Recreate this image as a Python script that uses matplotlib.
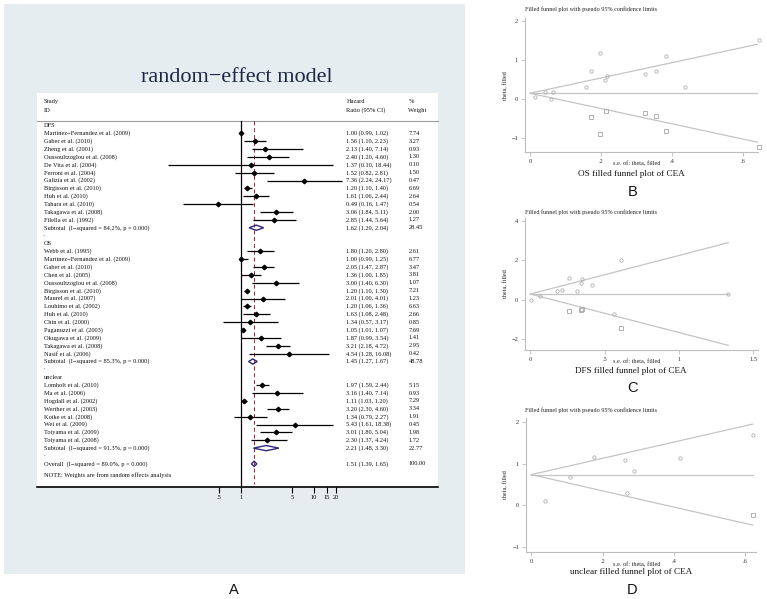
import matplotlib
matplotlib.use('Agg')
import matplotlib.pyplot as plt
from matplotlib.patches import Rectangle, Polygon

# ---------------- data ----------------
dfs_study = ['Martinez−Fernandez et al. (2009)', 'Gaber et al. (2010)', 'Zheng et al. (2001)',
             'Oussoultzoglou et al. (2008)', 'De Vita et al. (2004)', 'Ferroni et al. (2004)',
             'Galizia et al. (2002)', 'Birgisson et al. (2010)', 'Huh et al. (2010)',
             'Tahara et al. (2010)', 'Takagawa et al. (2008)', 'Filella et al. (1992)']
dfs_hr = [1.00, 1.56, 2.13, 2.40, 1.37, 1.52, 7.36, 1.20, 1.61, 0.49, 3.06, 2.85]
dfs_lo = [0.99, 1.10, 1.40, 1.20, 0.10, 0.82, 2.24, 1.10, 1.06, 0.16, 1.84, 1.44]
dfs_hi = [1.02, 2.23, 7.14, 4.60, 18.44, 2.81, 24.17, 1.40, 2.44, 1.47, 5.11, 5.64]
dfs_w = ['7.74', '3.27', '0.93', '1.30', '0.10', '1.50', '0.47', '6.69', '2.64', '0.54', '2.00', '1.27']

os_study = ['Webb et al. (1995)', 'Martinez−Fernandez et al. (2009)', 'Gaber et al. (2010)',
            'Chen et al. (2005)', 'Oussoultzoglou et al. (2008)', 'Birgisson et al. (2010)',
            'Maurel et al. (2007)', 'Louhimo et al. (2002)', 'Huh et al. (2010)', 'Chin et al. (2000)',
            'Paganuzzi et al. (2003)', 'Okugawa et al. (2009)', 'Takagawa et al. (2008)', 'Nasif et al. (2006)']
os_hr = [1.80, 1.00, 2.05, 1.36, 3.00, 1.20, 2.01, 1.20, 1.63, 1.34, 1.05, 1.87, 3.21, 4.54]
os_lo = [1.20, 0.99, 1.47, 1.00, 1.40, 1.10, 1.00, 1.06, 1.08, 0.57, 1.01, 0.99, 2.18, 1.28]
os_hi = [2.80, 1.25, 2.87, 1.85, 6.30, 1.30, 4.01, 1.36, 2.48, 3.17, 1.07, 3.54, 4.72, 16.08]
os_w = ['2.61', '6.77', '3.47', '3.81', '1.07', '7.21', '1.23', '6.63', '2.66', '0.85', '7.69', '1.41', '2.95', '0.42']

unc_study = ['Lomholt et al. (2010)', 'Ma et al. (2006)', 'Hogdall et al. (2002)', 'Werther et al. (2003)',
             'Koike et al. (2008)', 'Wei et al. (2009)', 'Toiyama et al. (2009)', 'Toiyama et al. (2008)']
unc_hr = [1.97, 3.16, 1.11, 3.20, 1.34, 5.43, 3.01, 2.30]
unc_lo = [1.59, 1.40, 1.03, 2.30, 0.79, 1.61, 1.80, 1.37]
unc_hi = [2.44, 7.14, 1.20, 4.60, 2.27, 18.38, 5.04, 4.24]
unc_w = ['5.15', '0.93', '7.29', '3.34', '1.91', '0.45', '1.98', '1.72']

group_names = ['DFS', 'OS', 'unclear']
sub_label = ['Subtotal  (I−squared = 84.2%, p = 0.000)', 'Subtotal  (I−squared = 85.3%, p = 0.000)',
             'Subtotal  (I−squared = 91.3%, p = 0.000)']
sub_hr = [1.62, 1.45, 2.21]
sub_lo = [1.29, 1.27, 1.48]
sub_hi = [2.04, 1.67, 3.30]
sub_w = ['28.45', '48.78', '22.77']
overall_label = 'Overall  (I−squared = 89.0%, p = 0.000)'
overall_hr, overall_lo, overall_hi, overall_w = 1.51, 1.39, 1.65, '100.00'
forest_ticks = [0.5, 1, 5, 10, 15, 20]
forest_ticklabels = ['.5', '1', '5', '10', '15', '20']

# funnel data (se, theta)
B_obs_se = [0.216, 0.060, 0.171, 0.157, 0.384, 0.043, 0.354, 0.064, 0.212, 0.438, 0.015, 0.325, 0.197, 0.645]
B_obs_th = [0.588, 0.00, 0.718, 0.307, 1.099, 0.182, 0.698, 0.182, 0.489, 0.293, 0.049, 0.626, 1.166, 1.513]
B_fill_se = [0.171, 0.214, 0.197, 0.325, 0.354, 0.384, 0.645]
B_fill_th = [-0.46, -0.32, -0.91, -0.37, -0.44, -0.84, -1.25]
B_theta0 = 0.14

C_obs_se = [0.008, 0.180, 0.416, 0.343, 1.331, 0.314, 0.607, 0.062, 0.213, 0.566, 0.261, 0.348]
C_obs_th = [0.00, 0.445, 0.756, 0.875, 0.315, 0.419, 1.996, 0.182, 0.476, -0.713, 1.118, 1.047]
C_fill_se = [0.261, 0.348, 0.343, 0.607]
C_fill_th = [-0.56, -0.46, -0.52, -1.45]
C_theta0 = 0.29

D_obs_se = [0.109, 0.416, 0.039, 0.177, 0.269, 0.621, 0.263, 0.288]
D_obs_th = [0.678, 1.151, 0.104, 1.163, 0.293, 1.692, 1.102, 0.833]
D_fill_se = [0.621]
D_fill_th = [-0.23]
D_theta0 = 0.74

# ---------------- layout helpers ----------------
W, H = 767, 599
fig = plt.figure(figsize=(W / 100, H / 100), dpi=100)
fig.patch.set_facecolor('white')
SERIF = 'Liberation Serif'
SANS = 'Liberation Sans'


def rect(l, t, r, b):
    return [l / W, 1 - b / H, (r - l) / W, (b - t) / H]


def ftext(x, y, s, **kw):
    fig.text(x / W, 1 - y / H, s, **kw)


# gray backdrop of panel A
fig.patches.append(Rectangle((4 / W, 1 - 574 / H), (465 - 4) / W, (574 - 4) / H,
                             transform=fig.transFigure, facecolor='#e6edf0',
                             edgecolor='none', zorder=-5))
ftext(237, 77, 'random−effect model', fontsize=16, family=SERIF, color='#1c2745',
      ha='center', va='center')

# ---------------- forest plot ----------------
AX_L, AX_R = 37, 438
X1, DEC = 241, 73.0
ax = fig.add_axes(rect(AX_L, 93, AX_R, 487))
ax.set_facecolor('white')
ax.set_xscale('log')
ax.set_xlim(10 ** ((AX_L - X1) / DEC), 10 ** ((AX_R - X1) / DEC))
ax.set_ylim(45.94, -4.12)
for s in ['top', 'left', 'right']:
    ax.spines[s].set_visible(False)
ax.spines['bottom'].set_linewidth(1.2)
ax.set_yticks([])
ax.set_xticks(forest_ticks)
ax.set_xticklabels(forest_ticklabels)
ax.minorticks_off()
ax.tick_params(axis='x', direction='out', length=4, width=0.8, labelsize=4.6, pad=1.5)
for t in ax.get_xticklabels():
    t.set_family(SERIF)

tr = ax.get_yaxis_transform()
xs_col = (44 - AX_L) / (AX_R - AX_L)
hr_col = (346.5 - AX_L) / (AX_R - AX_L)
w_col = (408.5 - AX_L) / (AX_R - AX_L)
FS = 4.55
tk = dict(transform=tr, fontsize=FS, family=SERIF, va='center', color='#111111', clip_on=False)

ax.text(xs_col, -3.0, 'Study', **tk)
ax.text(xs_col, -1.95, 'ID', **tk)
ax.text(hr_col, -3.0, 'Hazard', **tk)
ax.text(hr_col, -1.95, 'Ratio (95% CI)', **tk)
ax.text(w_col, -3.0, '%', **tk)
ax.text(w_col, -1.95, 'Weight', **tk)
ax.plot([0, 1], [-0.6, -0.6], transform=tr, color='#9a9a9a', lw=0.8, clip_on=False)

ax.plot([1, 1], [-0.6, 45.94], color='black', lw=0.9)
ax.plot([overall_hr, overall_hr], [-0.6, 45.6], color='#9b2335', lw=0.7, dashes=(4, 3))


def diamond(r, hr, lo, hi):
    ax.add_patch(Polygon([(lo, r), (hr, r - 0.33), (hi, r), (hr, r + 0.33)], closed=True,
                         facecolor='none', edgecolor='#2e2a7a', lw=1.0, zorder=5))


groups = [(dfs_study, dfs_hr, dfs_lo, dfs_hi, dfs_w),
          (os_study, os_hr, os_lo, os_hi, os_w),
          (unc_study, unc_hr, unc_lo, unc_hi, unc_w)]
row = 0
for g, (st, hr, lo, hi, w) in enumerate(groups):
    ax.text(xs_col, row, group_names[g], **tk)
    row += 1
    for i in range(len(st)):
        ax.text(xs_col, row, st[i], **tk)
        ax.text(hr_col, row, '%.2f (%.2f, %.2f)' % (hr[i], lo[i], hi[i]), **tk)
        ax.text(w_col, row, w[i], **tk)
        ax.plot([lo[i], hi[i]], [row, row], color='black', lw=0.9, solid_capstyle='butt', zorder=4)
        ax.plot([hr[i]], [row], marker='D', ms=2.3, color='black', zorder=6)
        row += 1
    ax.text(xs_col, row, sub_label[g], **tk)
    ax.text(hr_col, row, '%.2f (%.2f, %.2f)' % (sub_hr[g], sub_lo[g], sub_hi[g]), **tk)
    ax.text(w_col, row, sub_w[g], **tk)
    diamond(row, sub_hr[g], sub_lo[g], sub_hi[g])
    row += 1
    ax.text(xs_col, row - 0.2, '.', **tk)
    row += 1
ax.text(xs_col, row, overall_label, **tk)
ax.text(hr_col, row, '%.2f (%.2f, %.2f)' % (overall_hr, overall_lo, overall_hi), **tk)
ax.text(w_col, row, overall_w, **tk)
diamond(row, overall_hr, overall_lo, overall_hi)
ax.text(xs_col, row + 1.45, 'NOTE: Weights are from random effects analysis', **tk)

ftext(234, 590, 'A', fontsize=10.5, family=SANS, ha='center', va='center', color='#111111')


# ---------------- funnel plots ----------------
def funnel(box, xlim, ylim, xticks, xticklabels, yticks, yticklabels, obs_se, obs_th,
           fill_se, fill_th, theta0, title_y, xlabel_y, caption, cap_y, letter, letter_y):
    l, t, r, b = box
    fa = fig.add_axes(rect(l, t, r, b))
    fa.set_facecolor('none')
    fa.set_xlim(*xlim)
    fa.set_ylim(*ylim)
    for s in ['top', 'right']:
        fa.spines[s].set_visible(False)
    for s in ['left', 'bottom']:
        fa.spines[s].set_color('#bdbdbd')
        fa.spines[s].set_linewidth(0.8)
    fa.set_xticks(xticks)
    fa.set_xticklabels(xticklabels)
    fa.set_yticks(yticks)
    fa.set_yticklabels(yticklabels)
    fa.tick_params(direction='out', length=3, width=0.6, color='#bdbdbd',
                   labelsize=4.6, labelcolor='#333333', pad=2)
    for tl in fa.get_xticklabels() + fa.get_yticklabels():
        tl.set_family(SERIF)
    semax = max(obs_se + fill_se)
    lc = '#c4c4c4'
    fa.plot([0, semax], [theta0, theta0], color=lc, lw=0.9)
    fa.plot([0, semax], [theta0, theta0 + 1.96 * semax], color=lc, lw=0.9)
    fa.plot([0, semax], [theta0, theta0 - 1.96 * semax], color=lc, lw=0.9)
    fa.plot(obs_se, obs_th, 'o', ms=2.4, mfc='none', mec='#b0b0b0', mew=0.6, clip_on=False)
    fa.plot(fill_se, fill_th, 's', ms=3.2, mfc='none', mec='#b0b0b0', mew=0.7, clip_on=False)
    ftext(525, title_y, 'Filled funnel plot with pseudo 95% confidence limits', fontsize=4.4,
          family=SERIF, va='center', ha='left', color='#222222')
    ftext(506, (t + b) / 2, 'theta, filled', fontsize=4.5, family=SERIF, rotation=90,
          va='center', ha='center', color='#222222')
    ftext(637, xlabel_y, 's.e. of: theta, filled', fontsize=4.5, family=SERIF,
          va='center', ha='center', color='#222222')
    ftext(631, cap_y, caption, fontsize=6.6, family=SERIF, va='center', ha='center', color='#111111')
    ftext(632.5, letter_y, letter, fontsize=10.5, family=SANS, va='center', ha='center', color='#111111')
    return fa


funnel((525, 18.3, 758, 152), (-0.0141, 0.6423), (-1.367, 2.062),
       [0, 0.2, 0.4, 0.6], ['0', '.2', '.4', '.6'], [-1, 0, 1, 2], ['−1', '0', '1', '2'],
       B_obs_se, B_obs_th, B_fill_se, B_fill_th, B_theta0,
       9.3, 163.5, 'OS filled funnel plot of CEA', 174, 'B', 191.5)

funnel((525, 217.7, 758, 350), (-0.0356, 1.531), (-2.557, 4.17),
       [0, 0.5, 1, 1.5], ['0', '.5', '1', '1.5'], [-2, 0, 2, 4], ['−2', '0', '2', '4'],
       C_obs_se, C_obs_th, C_fill_se, C_fill_th, C_theta0,
       212.3, 361.7, 'DFS filled funnel plot of CEA', 371, 'C', 387.7)

funnel((526, 417.7, 756, 551.7), (-0.0149, 0.630), (-1.118, 2.111),
       [0, 0.2, 0.4, 0.6], ['0', '.2', '.4', '.6'], [-1, 0, 1, 2], ['−1', '0', '1', '2'],
       D_obs_se, D_obs_th, D_fill_se, D_fill_th, D_theta0,
       410, 565, 'unclear filled funnel plot of CEA', 572, 'D', 590)

fig.savefig('out.png', dpi=100, facecolor='white')
